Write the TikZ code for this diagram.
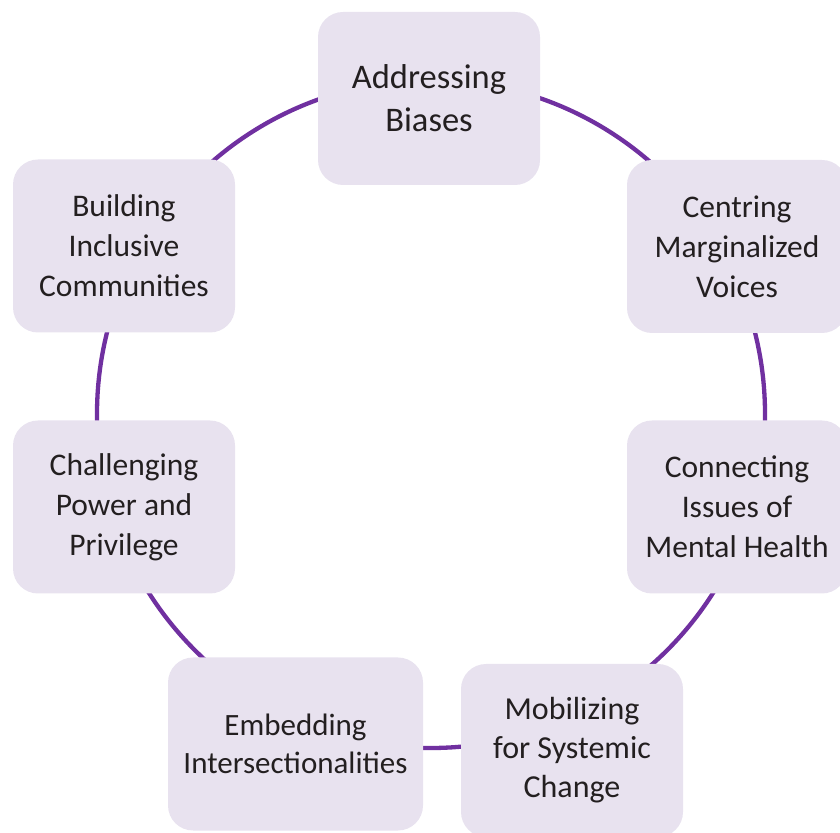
\documentclass[tikz,border=0pt]{standalone}
\usepackage{fontspec}
\setmainfont{Carlito}
\definecolor{boxfill}{HTML}{E8E2EF}
\definecolor{ringcol}{HTML}{7030A0}
\definecolor{textcol}{HTML}{231F20}
\begin{document}
\begin{tikzpicture}[x=1pt,y=1pt,
  box/.style={draw=none, fill=boxfill, rounded corners=25pt, minimum width=222pt,
    minimum height=173pt, align=center, font=\fontsize{31.5}{40}\selectfont,
    text=textcol, inner sep=0pt},
  ring/.style={draw=ringcol, line width=4.3pt}]
\useasboundingbox (0,0) rectangle (840,832);
\clip (0,0) rectangle (840,832);
\coordinate (c) at (431,418);
\draw[ring] (c) circle (334);
\node[box, font=\fontsize{34.5}{43}\selectfont] (addr) at (429,733.5) {Addressing\\Biases};
\node[box, minimum width=220pt] (cent) at (737,585.5) {Centring\\Marginalized\\Voices};
\node[box, minimum width=220pt] (conn) at (737,325) {Connecting\\Issues of\\Mental Health};
\node[box, font=\fontsize{32}{39}\selectfont] (mobi) at (572,81.5) {Mobilizing\\for Systemic\\Change};
\node[box, minimum width=255pt, font=\fontsize{31}{38}\selectfont] (embe) at (295.5,88) {Embedding\\Intersectionalities};
\node[box] (chal) at (124,325) {Challenging\\Power and\\Privilege};
\node[box] (buil) at (124,586) {Building\\Inclusive\\Communities};
\end{tikzpicture}
\end{document}
